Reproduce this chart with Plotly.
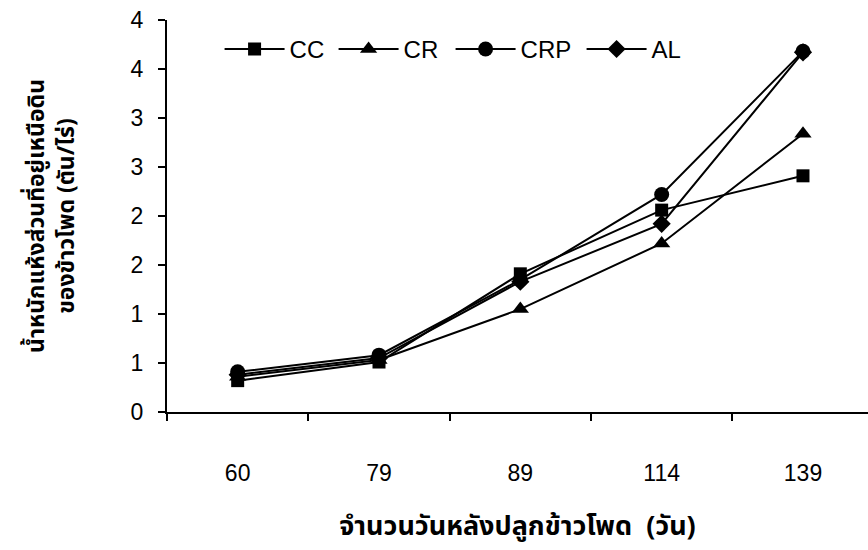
import plotly.graph_objects as go

days = ["60", "79", "89", "114", "139"]
cc = [0.32, 0.51, 1.41, 2.06, 2.41]
cr = [0.36, 0.53, 1.05, 1.72, 2.84]
crp = [0.41, 0.58, 1.35, 2.22, 3.68]
al = [0.38, 0.55, 1.33, 1.92, 3.67]

ytick_vals = [0, 0.5, 1, 1.5, 2, 2.5, 3, 3.5, 4]
ytick_text = ["0", "1", "1", "2", "2", "3", "3", "4", "4"]

series = [
    ("CC", cc, "square", 13, 39),
    ("CR", cr, "triangle-up", 15, 42),
    ("CRP", crp, "circle", 15, 56),
    ("AL", al, "diamond", 14, 40),
]

FONT = "Arial, 'Liberation Sans', sans-serif"
THAI = "Tahoma, 'Noto Sans Thai', 'Leelawadee UI', sans-serif"

fig = go.Figure()
for name, vals, sym, sz, lw in series:
    fig.add_trace(go.Scatter(
        x=days, y=vals, name=name, mode="lines+markers",
        line=dict(color="black", width=2),
        marker=dict(symbol=sym, size=sz, color="black"),
        cliponaxis=False, legendwidth=lw,
    ))

fig.update_layout(
    width=868, height=550,
    margin=dict(l=167, r=0, t=20, b=138),
    paper_bgcolor="white", plot_bgcolor="white",
    font=dict(family=FONT, size=22, color="black"),
    showlegend=True,
    legend=dict(
        orientation="h", x=0.075, y=0.925, xanchor="left", yanchor="middle",
        bgcolor="rgba(0,0,0,0)", font=dict(size=24, family=FONT),
        itemwidth=60, tracegroupgap=0,
    ),
    xaxis=dict(
        type="category", range=[-0.5, 4.46],
        showline=True, linecolor="black", linewidth=2,
        ticks="outside", tickson="boundaries", ticklen=7, tickwidth=1.5, tickcolor="black",
        showgrid=False, zeroline=False,
        tickfont=dict(size=23, family=FONT),
        ticklabelstandoff=39,
        title=dict(text="<b>จำนวนวันหลังปลูกข้าวโพด  (วัน)</b>", font=dict(size=27, family=THAI), standoff=32),
    ),
    yaxis=dict(
        range=[0, 4], tickvals=ytick_vals, ticktext=ytick_text,
        showline=True, linecolor="black", linewidth=2,
        ticks="outside", ticklen=7, tickwidth=1.5, tickcolor="black",
        showgrid=False, zeroline=False,
        tickfont=dict(size=23, family=FONT),
        ticklabelstandoff=10,
        title=dict(text="<b>น้ำหนักแห้งส่วนที่อยู่เหนือดิน<br>ของข้าวโพด (ตัน/ไร่)</b>", font=dict(size=23, family=THAI), standoff=50),
    ),
)

fig.write_html("out.html")
